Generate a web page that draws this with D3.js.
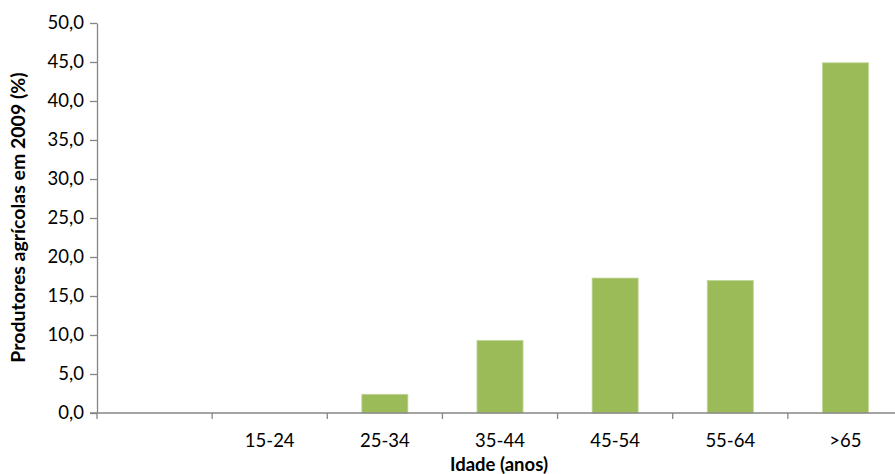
<!DOCTYPE html>
<html><head><meta charset="utf-8">
<script src="https://cdn.jsdelivr.net/npm/d3@7"></script>
<style>body{margin:0;background:#fff;overflow:hidden}svg{display:block}</style>
</head><body>
<script>
const categories = ["", "15-24", "25-34", "35-44", "45-54", "55-64", ">65"];
const values = [null, 0, 2.4, 9.3, 17.3, 17.0, 44.9];
const yTicks = [0, 5, 10, 15, 20, 25, 30, 35, 40, 45, 50];
const xTitle = "Idade (anos)";
const yTitle = "Produtores agrícolas em 2009 (%)";

const W = 895, H = 474;
const m = {left: 97, top: 23, right: 903, bottom: 413};
const svg = d3.select("body").append("svg").attr("width", W).attr("height", H);
const font = "Lato, 'Open Sans', sans-serif";
const axisColor = "#868686";
const fs = 18.5;

const x = d3.scaleBand().domain(categories.map((d, i) => i)).range([m.left, m.right]).paddingInner(0).paddingOuter(0);
const y = d3.scaleLinear().domain([0, 50]).range([m.bottom, m.top]);

// bars
svg.append("g").selectAll("rect").data(values.map((v, i) => ({v, i})).filter(d => d.v != null && d.v > 0))
  .join("rect")
  .attr("x", d => x(d.i) + x.bandwidth() * 0.3)
  .attr("width", x.bandwidth() * 0.4)
  .attr("y", d => y(d.v))
  .attr("height", d => y(0) - y(d.v))
  .attr("fill", "#9BBB59")
  .attr("stroke", "#c3d69b").attr("stroke-width", 0.8);

// y axis
const ya = svg.append("g").attr("transform", `translate(${m.left},0)`)
  .call(d3.axisLeft(y).tickValues(yTicks).tickSize(7).tickSizeOuter(0).tickPadding(6)
    .tickFormat(d => d3.format(".1f")(d).replace(".", ",")));
ya.select(".domain").attr("stroke", axisColor).attr("stroke-width", 1.3);
ya.selectAll(".tick line").attr("stroke", axisColor).attr("stroke-width", 1.3);
ya.selectAll("text").attr("font-family", font).attr("font-size", fs).attr("fill", "#000");

// x axis
const xb = d3.scaleLinear().domain([0, categories.length]).range([m.left, m.right]);
const xa = svg.append("g").attr("transform", `translate(0,${m.bottom})`);
xa.append("line").attr("x1", m.left - 7).attr("x2", m.right).attr("y1", 0).attr("y2", 0)
  .attr("stroke", axisColor).attr("stroke-width", 1.3);
xa.selectAll("line.tk").data(d3.range(categories.length + 1)).join("line").attr("class", "tk")
  .attr("x1", d => xb(d)).attr("x2", d => xb(d)).attr("y1", 0).attr("y2", 6)
  .attr("stroke", axisColor).attr("stroke-width", 1.3);
xa.selectAll("text").data(categories.map((c, i) => ({c, i}))).join("text")
  .attr("x", d => x(d.i) + x.bandwidth() / 2).attr("y", 34)
  .attr("text-anchor", "middle").attr("font-family", font).attr("font-size", fs).attr("fill", "#000")
  .text(d => d.c);

// titles
svg.append("text").attr("x", 499).attr("y", 471).attr("text-anchor", "middle")
  .attr("font-family", font).attr("font-size", fs).attr("font-weight", "bold").text(xTitle);
svg.append("text").attr("transform", `translate(25,${(70 + 365) / 2}) rotate(-90)`).attr("text-anchor", "middle")
  .attr("font-family", font).attr("font-size", 19.5).attr("font-weight", "bold").text(yTitle);
</script>
</body></html>
